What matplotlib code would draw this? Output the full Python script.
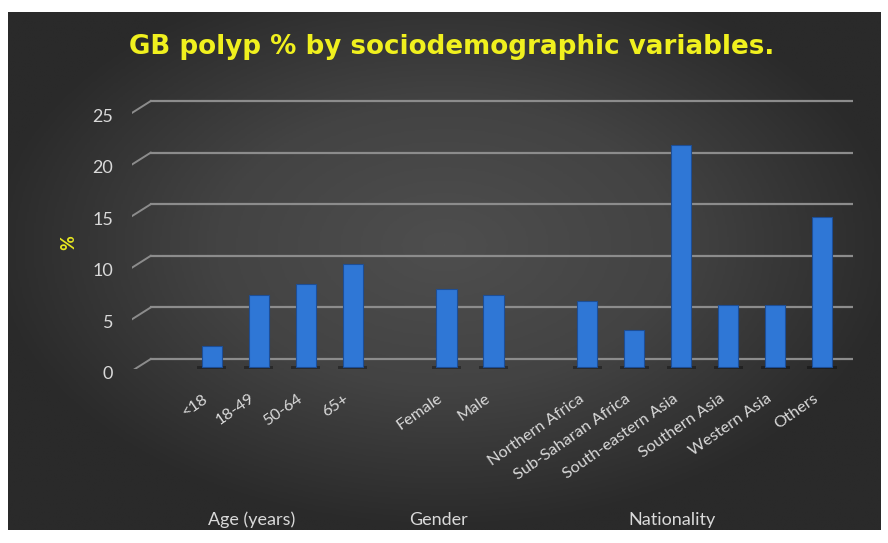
import numpy as np
import matplotlib
matplotlib.use('Agg')
from matplotlib import pyplot as plt
from matplotlib.colors import LinearSegmentedColormap
from matplotlib.transforms import ScaledTranslation

# values (%)
age_labels = ['<18', '18-49', '50-64', '65+']
age_values = [2.0, 7.0, 8.0, 10.0]
gender_labels = ['Female', 'Male']
gender_values = [7.6, 7.0]
nation_labels = ['Northern Africa', 'Sub-Saharan Africa', 'South-eastern Asia',
                 'Southern Asia', 'Western Asia', 'Others']
nation_values = [6.4, 3.6, 21.5, 6.0, 6.0, 14.5]
group_names = ['Age (years)', 'Gender', 'Nationality']
y_ticks = [0, 5, 10, 15, 20, 25]

W, H = 888, 543
fig = plt.figure(figsize=(W / 100, H / 100), dpi=100)
fig.patch.set_facecolor('white')
plt.rcParams['font.family'] = ['Lato', 'DejaVu Sans']

# dark radial background
bg = fig.add_axes([8 / W, 1 - 530 / H, 872 / W, 518 / H])
yy, xx = np.mgrid[-1:1:300j, -1:1:500j]
r = np.clip(np.sqrt((xx / 1.05) ** 2 + ((yy + 0.1) / 1.1) ** 2), 0, 1)
cmap = LinearSegmentedColormap.from_list('bg', ['#4e4e4e', '#434343', '#2a2a2a'])
bg.imshow(r, cmap=cmap, vmin=0, vmax=1, aspect='auto', extent=[0, 1, 0, 1])
bg.set_axis_off()

labels = age_labels + gender_labels + nation_labels
values = age_values + gender_values + nation_values
pos = list(range(0, 4)) + [5, 6] + list(range(8, 14))

x0, x1 = -1.7, 13.66
ax = fig.add_axes([132 / W, 1 - 369.3 / H, (853 - 132) / W, (369.3 - 90.7) / H])
ax.set_facecolor('none')
ax.set_xlim(x0, x1)
ax.set_ylim(-1.0, 26)

grid_c = '#8c8c8c'
for v in y_ticks:
    ax.plot([-1.3, x1], [v, v], color=grid_c, lw=1.6, zorder=1)
    ax.plot([x0, -1.3], [v - 1.15, v], color=grid_c, lw=1.4, zorder=1)

# bars sit in front of the back wall: shift them down a little
front = ax.transData + ScaledTranslation(0, -0.08, fig.dpi_scale_trans)
shadow = ax.bar(pos, [0.55] * len(pos), bottom=-0.45, width=0.62, color='black',
                alpha=0.35, linewidth=0, zorder=2)
for p in shadow:
    p.set_transform(front)
bars = ax.bar(pos, values, width=0.43, color='#2f77d6', edgecolor='#1d4e96',
              linewidth=0.8, zorder=3)
for p in bars:
    p.set_transform(front)

for s in ax.spines.values():
    s.set_visible(False)

ax.set_yticks(y_ticks)
ax.set_yticklabels([str(v) for v in y_ticks], color='#d9d9d9', fontsize=13)
ax.tick_params(axis='y', length=0, pad=13.5)
off = ScaledTranslation(0, -0.14, fig.dpi_scale_trans)
for t in ax.get_yticklabels():
    t.set_transform(t.get_transform() + off)

ax.set_xticks(pos)
ax.set_xticklabels(labels, rotation=35, ha='right', va='center', rotation_mode='anchor',
                   color='#d9d9d9', fontsize=11.8)
ax.tick_params(axis='x', length=0, pad=20)
off_x = ScaledTranslation(-0.05, 0.0, fig.dpi_scale_trans)
for t in ax.get_xticklabels():
    t.set_transform(t.get_transform() + off_x)

fig.text(452 / W, 1 - 54 / H, 'GB polyp % by sociodemographic variables.',
         color='#f0f01e', fontsize=18.8, fontweight='bold', ha='center', va='baseline',
         family='DejaVu Sans')
fig.text(69 / W, 1 - 243 / H, '%', color='#e8e820', fontsize=13, fontweight='bold',
         rotation=90, ha='center', va='center')

for name, xp in zip(group_names, [252, 438, 672]):
    fig.text(xp / W, 1 - 520 / H, name, color='#d9d9d9', fontsize=13,
             ha='center', va='center')

fig.savefig('out.png', dpi=100)
